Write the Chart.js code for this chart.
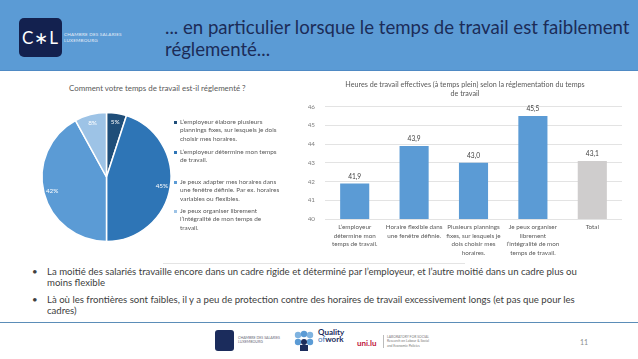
<!DOCTYPE html>
<html>
<head>
<meta charset="utf-8">
<script src="https://cdn.jsdelivr.net/npm/chart.js@4.4.0/dist/chart.umd.min.js"></script>
<style>
  html, body { margin: 0; padding: 0; }
  body { width: 638px; height: 359px; position: relative; overflow: hidden; background: #fff; font-family: Lato, "Open Sans", sans-serif; }
  .abs { position: absolute; }
  #header { left: 0; top: 0; width: 638px; height: 70px; background: #5b9bd5; border-bottom: 1px solid #4f8ac4; }
  #logo { left: 19px; top: 18px; width: 43px; height: 39px; background: #13214f; border-radius: 5px; color: #fff; font-size: 17px; line-height: 39px; text-align: center; letter-spacing: 1px; }
  #logoText { left: 64px; top: 32px; font-size: 4.6px; line-height: 5.5px; color: #e8eef8; letter-spacing: 0.2px; }
  #title { left: 165px; top: 16px; font-size: 18.6px; line-height: 22px; color: #1c2c58; white-space: nowrap; }
  #pieTitle { left: 69px; top: 83px; font-size: 7.9px; line-height: 10px; color: #595959; white-space: nowrap; }
  #pieLegend { left: 174px; top: 118px; font-size: 6.4px; line-height: 8.4px; color: #595959; }
  .item { position: absolute; left: 0; white-space: nowrap; }
  .item i { position: absolute; left: 0; top: 3px; width: 3px; height: 3px; }
  .item span { position: absolute; left: 6px; top: 0; }
  #frame { left: 163px; top: 263px; width: 302px; height: 1px; background: #e4e4e4; }
  #bullets { left: 30px; top: 266px; font-size: 9.6px; line-height: 11px; color: #404040; }
  .b { position: relative; padding-left: 17px; margin-bottom: 6px; white-space: nowrap; }
  .b:before { content: "\2022"; position: absolute; left: 2px; top: 0; }
  #sep { left: 0; top: 322px; width: 638px; height: 1px; background: #5b8db8; }
  #page { left: 580px; top: 338px; font-size: 7px; color: #8c8c8c; }
  #f1 { left: 215px; top: 330px; width: 19px; height: 21px; background: #1b2c5c; border-radius: 3px; }
  #f1t { left: 238px; top: 336px; font-size: 3.6px; line-height: 4.4px; color: #6a6a7a; }
  #f2 { left: 293px; top: 330px; width: 22px; height: 22px; }
  #f2t { left: 318px; top: 329px; font-size: 8px; line-height: 7.4px; color: #1b2c5c; font-weight: bold; }
  #f3 { left: 357px; top: 338px; font-size: 8px; font-weight: bold; color: #c0143c; }
  #f3t { left: 383px; top: 335px; font-size: 3.4px; line-height: 4.4px; color: #7a7a7a; border-left: 1px solid #bbb; padding-left: 3px; }
</style>
</head>
<body>
<div id="header" class="abs"></div>
<div id="logo" class="abs">C&#x2217;L</div>
<div id="logoText" class="abs">CHAMBRE DES SALARIES<br>LUXEMBOURG</div>
<div id="title" class="abs">... en particulier lorsque le temps de travail est faiblement<br>réglementé...</div>

<div id="pieTitle" class="abs"></div>
<canvas id="pieChart" class="abs" style="left:30px; top:78px;"></canvas>
<div id="pieLegend" class="abs"></div>
<canvas id="barChart" class="abs" style="left:308px; top:78px;"></canvas>
<div id="frame" class="abs"></div>

<div id="bullets" class="abs">
  <div class="b">La moitié des salariés travaille encore dans un cadre rigide et déterminé par l’employeur, et l’autre moitié dans un cadre plus ou<br>moins flexible</div>
  <div class="b">Là où les frontières sont faibles, il y a peu de protection contre des horaires de travail excessivement longs (et pas que pour les<br>cadres)</div>
</div>
<div id="sep" class="abs"></div>
<div id="f1" class="abs"></div>
<div id="f1t" class="abs">CHAMBRE DES SALARIES<br>LUXEMBOURG</div>
<svg id="f2" class="abs" viewBox="0 0 22 22">
  <circle cx="5" cy="5" r="3.2" fill="#7fb3e0"/><circle cx="11" cy="4" r="3.2" fill="#5b9bd5"/><circle cx="17" cy="5" r="3.2" fill="#7fb3e0"/>
  <circle cx="5" cy="12" r="3.2" fill="#5b9bd5"/><circle cx="17" cy="12" r="3.2" fill="#5b9bd5"/>
  <circle cx="11" cy="12" r="3" fill="#1b2c5c"/><rect x="7" y="15" width="8" height="6" fill="#1b2c5c"/>
</svg>
<div id="f2t" class="abs">Quality<br><span style="font-weight:normal;color:#3d76b8">of</span>work</div>
<div id="f3" class="abs">uni.lu</div>
<div id="f3t" class="abs">LABORATORY FOR SOCIAL<br>Research on Labour &amp; Social<br>and Economic Policies</div>
<div id="page" class="abs">11</div>

<script>
// pie: "Comment votre temps de travail est-il réglementé ?"
const pieTitle = 'Comment votre temps de travail est-il réglementé ?';
const pieLabels = [
    ['L’employeur élabore plusieurs', 'plannings fixes, sur lesquels je dois', 'choisir mes horaires.'],
    ['L’employeur détermine mon temps', 'de travail.'],
    ['Je peux adapter mes horaires dans', 'une fenêtre définie. Par ex. horaires', 'variables ou flexibles.'],
    ['Je peux organiser librement', 'l’intégralité de mon temps de', 'travail.']
];
const pieValues = [5, 45, 42, 8];
const pieColors = ['#1f4e79', '#2e75b6', '#5b9bd5', '#9dc3e6'];
const legendTops = [0, 30, 60, 89];

// bars: hours per regulation type
const barTitle = ['Heures de travail effectives (à temps plein) selon la réglementation du temps', 'de travail'];
const barCategories = [
    ['L’employeur', 'détermine mon', 'temps de travail.'],
    ['Horaire flexible dans', 'une fenêtre définie.'],
    ['Plusieurs plannings', 'fixes, sur lesquels je', 'dois choisir mes', 'horaires.'],
    ['Je peux organiser', 'librement', 'l’intégralité de mon', 'temps de travail.'],
    'Total'
];
const barValues = [41.9, 43.9, 43.0, 45.5, 43.1];
const barColors = ['#5b9bd5', '#5b9bd5', '#5b9bd5', '#5b9bd5', '#cfcdcd'];
const yMin = 40;
const yMax = 46;

const FONT = 'Lato, "Open Sans", sans-serif';

function fmt(v) {
    return v.toFixed(1).replace('.', ',');
}

document.getElementById('pieTitle').textContent = pieTitle;

// legend for the pie, as html
const legend = document.getElementById('pieLegend');
legend.innerHTML = pieLabels.map((lines, i) => `
    <div class="item" style="top:${legendTops[i]}px">
        <i style="background:${pieColors[i]}"></i>
        <span>${lines.join('<br>')}</span>
    </div>`).join('');

const pieValueLabels = {
    id: 'pieValueLabels',
    afterDatasetsDraw(chart) {
        const ctx = chart.ctx;
        const meta = chart.getDatasetMeta(0);
        ctx.save();
        ctx.font = `6.4px ${FONT}`;
        ctx.fillStyle = '#ffffff';
        ctx.textAlign = 'center';
        ctx.textBaseline = 'middle';
        meta.data.forEach((arc, i) => {
            const p = arc.getProps(['x', 'y', 'startAngle', 'endAngle', 'outerRadius'], true);
            const mid = (p.startAngle + p.endAngle) / 2;
            const r = p.outerRadius * 0.87;
            ctx.fillText(pieValues[i] + '%', p.x + Math.cos(mid) * r, p.y + Math.sin(mid) * r);
        });
        ctx.restore();
    }
};

const barValueLabels = {
    id: 'barValueLabels',
    afterDatasetsDraw(chart) {
        const ctx = chart.ctx;
        const meta = chart.getDatasetMeta(0);
        ctx.save();
        ctx.font = `6.6px ${FONT}`;
        ctx.fillStyle = '#404040';
        ctx.textAlign = 'center';
        ctx.textBaseline = 'middle';
        meta.data.forEach((bar, i) => {
            ctx.fillText(fmt(barValues[i]), bar.x, bar.y - 7);
        });
        ctx.restore();
    }
};

function buildPie() {
    const canvas = document.getElementById('pieChart');
    canvas.width = 244;
    canvas.height = 178;
    canvas.style.width = '244px';
    canvas.style.height = '178px';
    new Chart(canvas, {
        type: 'pie',
        data: {
            labels: pieLabels.map(l => l.join(' ')),
            datasets: [{
                data: pieValues,
                backgroundColor: pieColors,
                borderColor: '#ffffff',
                borderWidth: 1.5,
                radius: 64.5
            }]
        },
        options: {
            responsive: false,
            animation: false,
            layout: { padding: { left: 0, right: 91, top: 20, bottom: 0 } },
            plugins: {
                legend: { display: false },
                tooltip: { enabled: false },
                title: { display: false }
            }
        },
        plugins: [pieValueLabels]
    });
}

function buildBars() {
    const canvas = document.getElementById('barChart');
    canvas.width = 322;
    canvas.height = 184;
    canvas.style.width = '322px';
    canvas.style.height = '184px';
    new Chart(canvas, {
        type: 'bar',
        data: {
            labels: barCategories,
            datasets: [{
                data: barValues,
                backgroundColor: barColors,
                barPercentage: 0.49,
                categoryPercentage: 1
            }]
        },
        options: {
            responsive: false,
            animation: false,
            layout: { padding: { left: 0, right: 8, top: 0, bottom: 0 } },
            scales: {
                x: {
                    grid: { display: false, drawTicks: false },
                    border: { display: false },
                    ticks: {
                        color: '#595959',
                        font: { family: FONT, size: 6.3, lineHeight: 1.35 },
                        padding: 4,
                        maxRotation: 0,
                        autoSkip: false
                    },
                    afterFit(scale) { scale.height = 43; }
                },
                y: {
                    min: yMin,
                    max: yMax,
                    grid: { color: '#d9d9d9', lineWidth: 0.75, drawTicks: false },
                    border: { display: false },
                    ticks: {
                        stepSize: 1,
                        color: '#7f7f7f',
                        font: { family: FONT, size: 6.3 },
                        padding: 10
                    },
                    afterFit(scale) { scale.width = 17; }
                }
            },
            plugins: {
                legend: { display: false },
                tooltip: { enabled: false },
                title: {
                    display: true,
                    text: barTitle,
                    color: '#595959',
                    font: { family: FONT, size: 7.2, weight: 'normal', lineHeight: 1.25 },
                    padding: { top: 2.4, bottom: 8.3 }
                }
            }
        },
        plugins: [barValueLabels]
    });
}

buildPie();
buildBars();
</script>
</body>
</html>
